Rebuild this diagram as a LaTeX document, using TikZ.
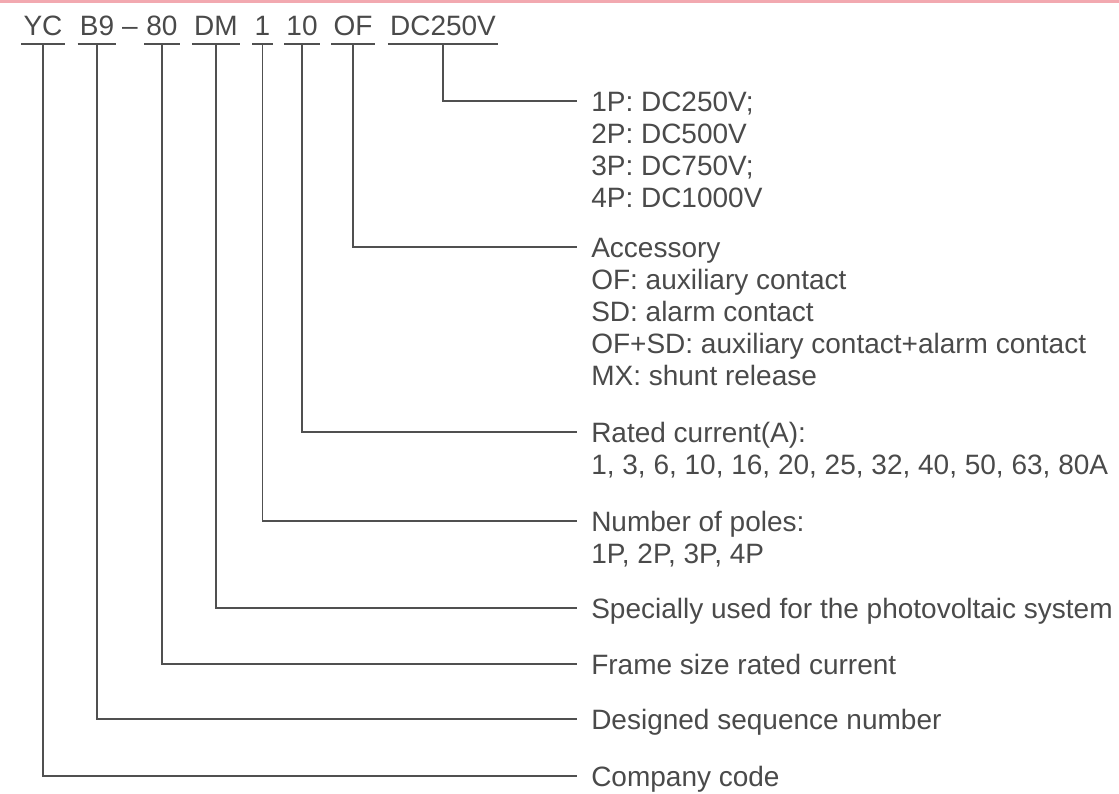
\documentclass[tikz,border=0pt]{standalone}
\usepackage{fontspec}
\setmainfont{Liberation Sans}
\definecolor{txtgray}{HTML}{4A4A4A}
\definecolor{linegray}{HTML}{505050}
\definecolor{topbar}{HTML}{F2A9B0}
\begin{document}
\begin{tikzpicture}[x=0.75pt,y=-0.75pt,
  hdr/.style={anchor=base, inner xsep=1.5pt, inner ysep=6.75pt, text depth=0pt,
    font=\fontsize{21}{24}\selectfont, text=txtgray},
  lbl/.style={anchor=base west, inner sep=0pt, font=\fontsize{21}{24}\selectfont, text=txtgray},
  wire/.style={draw=linegray, line width=1.4pt}]
\useasboundingbox (0,0) rectangle (1119,793);
\fill[topbar] (0,0) rectangle (1119,2.5);

% header code parts
\node[hdr] (yc) at (43,35) {YC};
\node[hdr] (b9) at (97,35) {B9};
\node[hdr, inner ysep=0pt] (dash) at (130,35) {--};
\node[hdr] (s80) at (162,35) {80};
\node[hdr] (dm) at (216,35) {DM};
\node[hdr] (one) at (262.5,35) {1};
\node[hdr] (ten) at (302,35) {10};
\node[hdr] (of) at (353,35) {OF};
\node[hdr] (dc) at (443,35) {DC250V};

\foreach \n in {yc,b9,s80,dm,one,ten,of,dc}
  \draw[wire] (\n.south west) -- (\n.south east);

% connector end points
\coordinate (edc) at (577,101);
\coordinate (eof) at (577,247);
\coordinate (eten) at (577,432);
\coordinate (eone) at (577,521);
\coordinate (edm) at (577,608);
\coordinate (e80) at (577,664);
\coordinate (eb9) at (577,719);
\coordinate (eyc) at (577,776);

% labels
\node[lbl] (ldc) at (591,111) {\begin{tabular}[t]{@{}l@{}}1P: DC250V;\\2P: DC500V\\3P: DC750V;\\4P: DC1000V\end{tabular}};
\node[lbl] (lof) at (591,257) {\begin{tabular}[t]{@{}l@{}}Accessory\\OF: auxiliary contact\\SD: alarm contact\\OF+SD: auxiliary contact+alarm contact\\MX: shunt release\end{tabular}};
\node[lbl] (lten) at (591,442) {\begin{tabular}[t]{@{}l@{}}Rated current(A):\\1, 3, 6, 10, 16, 20, 25, 32, 40, 50, 63, 80A\end{tabular}};
\node[lbl] (lone) at (591,531) {\begin{tabular}[t]{@{}l@{}}Number of poles:\\1P, 2P, 3P, 4P\end{tabular}};
\node[lbl] (ldm) at (591,618) {Specially used for the photovoltaic system};
\node[lbl] (l80) at (591,674) {Frame size rated current};
\node[lbl] (lb9) at (591,729) {Designed sequence number};
\node[lbl] (lyc) at (591,786) {Company code};

% connectors
\draw[wire] (dc.south) |- (edc);
\draw[wire] (of.south) |- (eof);
\draw[wire] (ten.south) |- (eten);
\draw[wire] (one.south) |- (eone);
\draw[wire] (dm.south) |- (edm);
\draw[wire] (s80.south) |- (e80);
\draw[wire] (b9.south) |- (eb9);
\draw[wire] (yc.south) |- (eyc);
\end{tikzpicture}
\end{document}
